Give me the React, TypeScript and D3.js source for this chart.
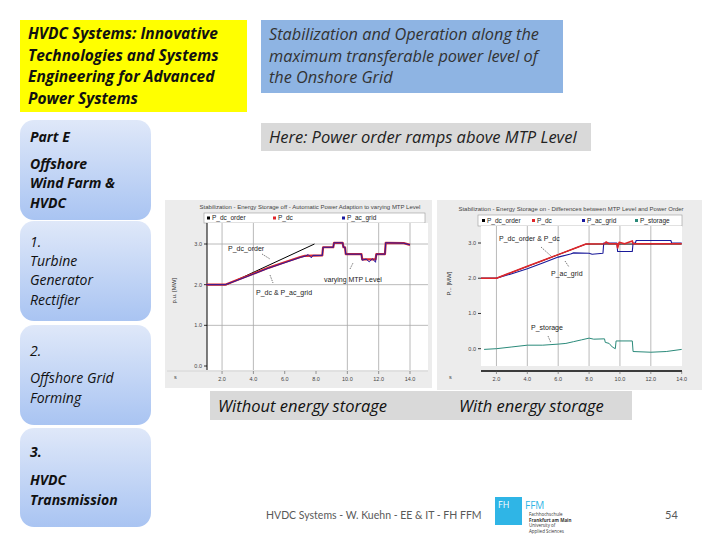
import * as d3 from "d3";

// x / y ticks of both simulation plots
const xTicks = [2, 4, 6, 8, 10, 12, 14];
const yTicks = [0, 1, 2, 3];
const gridX1 = [2, 4, 10, 12, 14];
const gridY1 = [1, 2, 3];
const gridX2 = [2, 4, 6, 8, 10, 12];

// Without energy storage (time s, p.u.)
const offOrder: [number, number][] = [[1, 2.0], [2.3, 2.0], [7.9, 3.0]];
const offDc: [number, number][] = [
  [1, 2.0], [2.2, 2.0], [3, 2.12], [4, 2.27], [5, 2.42], [6, 2.55], [7, 2.68], [7.3, 2.71],
  [8.4, 2.72], [8.45, 2.92], [9.1, 2.92], [9.15, 3.03], [9.7, 3.03], [9.75, 2.92], [9.85, 2.92],
  [9.9, 2.75], [10.9, 2.75], [10.95, 2.62], [11.8, 2.62], [11.85, 2.75], [12.4, 2.75],
  [12.45, 3.03], [13.6, 3.02], [14, 2.98],
];
const offGrid: [number, number][] = [
  [1, 2.0], [2.2, 2.0], [3, 2.11], [4, 2.26], [5, 2.41], [6, 2.54], [7, 2.67], [7.3, 2.7],
  [7.5, 2.74], [7.7, 2.66], [7.8, 2.72], [8.4, 2.72], [8.45, 2.92], [9.1, 2.92], [9.15, 3.03],
  [9.7, 3.03], [9.75, 2.92], [9.85, 2.92], [9.9, 2.75], [10.9, 2.75], [10.95, 2.6], [11.2, 2.63],
  [11.4, 2.56], [11.6, 2.64], [11.8, 2.55], [11.85, 2.75], [12.4, 2.75], [12.45, 3.03],
  [13.6, 3.02], [14, 2.98],
];

// With energy storage
const onOrder: [number, number][] = [[1, 2.0], [2.0, 2.0], [7.8, 2.97], [14, 2.97]];
const onDc: [number, number][] = [
  [1, 2.0], [2.0, 2.0], [3, 2.17], [4, 2.34], [5, 2.5], [6, 2.67], [7, 2.84], [7.8, 2.97],
  [9, 2.98], [9.1, 3.03], [9.3, 2.98], [9.8, 2.98], [9.85, 2.86], [9.95, 3.02], [10.3, 2.98],
  [10.8, 3.06], [10.85, 2.98], [14, 2.98],
];
const onGrid: [number, number][] = [
  [1, 2.0], [2.0, 2.0], [3, 2.13], [4, 2.27], [5, 2.43], [6, 2.6], [6.8, 2.69], [7, 2.72],
  [8, 2.71], [8.2, 2.68], [8.9, 2.71], [8.95, 3.0], [9.8, 3.0], [9.85, 2.76], [10.8, 2.76],
  [10.85, 3.0], [11, 3.0], [11.05, 3.07], [13.3, 3.07], [13.35, 3.0], [14, 3.0],
];
const onStorage: [number, number][] = [
  [1.2, -0.02], [2, 0.0], [3, 0.05], [4, 0.1], [5, 0.1], [6, 0.13], [6.5, 0.15], [7, 0.2],
  [7.5, 0.25], [8, 0.3], [8.3, 0.27], [9, 0.28], [9.05, 0.18], [9.3, 0.15], [9.5, 0.05],
  [9.7, 0.0], [9.75, 0.22], [10.8, 0.22], [10.85, -0.08], [12, -0.1], [13, -0.08], [14, -0.02],
];

const legendOff = ["P_dc_order", "P_dc", "P_ac_grid"];
const legendOn = ["P_dc_order", "P_dc", "P_ac_grid", "P_storage"];
const legendColors = ["#000000", "#e0262b", "#1a1aa0", "#2a8a7a"];

const leftBoxes = [
  { lines: ["Part E", "Offshore", "Wind Farm  &", "HVDC"], ys: [137, 164, 183, 203], bold: true },
  { lines: ["1.", "Turbine", "Generator", "Rectifier"], ys: [242, 261, 280, 300], bold: false },
  { lines: ["2.", "Offshore Grid", "Forming"], ys: [351, 378, 398], bold: false },
  { lines: ["3.", "HVDC", "Transmission"], ys: [452, 480, 500], bold: true },
];

const slideFont = "'Open Sans', Lato, sans-serif";
const chartFont = "'Liberation Sans', Arial, sans-serif";

type Series = { data: [number, number][]; color: string; width: number };

function Chart(props: {
  panel: [number, number, number, number];
  plot: [number, number, number, number];
  x0: number; x1: number; y0: number; y3: number;
  title: string; titleX: number; titleY: number;
  legend: string[]; legendX: number[]; legendBox: [number, number, number, number];
  gridX: number[]; gridY: number[];
  series: Series[];
  notes: { text: string; x: number; y: number; lead: [number, number, number, number] }[];
  yLabel: string; yLabelX: number; axisBlack: boolean;
}) {
  const [px, py, pw, ph] = props.plot;
  const x = d3.scaleLinear().domain([1, 14]).range([props.x0, props.x1]);
  const y = d3.scaleLinear().domain([0, 3]).range([props.y0, props.y3]);
  const line = d3.line<[number, number]>().x(d => x(d[0])).y(d => y(d[1]));
  const [lx, ly, lw, lh] = props.legendBox;
  const tickTop = py + ph + (props.axisBlack ? 1 : 5);
  return (
    <g fontFamily={chartFont}>
      <rect x={props.panel[0]} y={props.panel[1]} width={props.panel[2]} height={props.panel[3]} fill="#ececec" />
      <text x={props.titleX} y={props.titleY} fontSize={6} fill="#444" textAnchor="middle">{props.title}</text>
      <rect x={lx} y={ly} width={lw} height={lh} fill="#fff" stroke="#999" strokeWidth={0.6} />
      {props.legend.map((t, i) => (
        <g key={t}>
          <rect x={props.legendX[i]} y={ly + lh / 2 - 1.5} width={3} height={3} fill={legendColors[i]} />
          <text x={props.legendX[i] + 5} y={ly + lh / 2 + 2} fontSize={6.5} fill="#222">{t}</text>
        </g>
      ))}
      <rect x={px} y={py} width={pw} height={ph} fill="#fff" />
      {props.gridX.map(v => (
        <line key={"gx" + v} x1={x(v)} x2={x(v)} y1={py} y2={py + ph} stroke="#a8a8a8" strokeWidth={0.8} />
      ))}
      {props.gridY.map(v => (
        <line key={"gy" + v} x1={px} x2={px + pw} y1={y(v)} y2={y(v)} stroke="#a8a8a8" strokeWidth={0.8} />
      ))}
      {props.axisBlack ? (
        <>
          <line x1={px} x2={px} y1={py} y2={py + ph} stroke="#000" strokeWidth={1} />
          <line x1={px - 40} x2={px + pw} y1={py + ph + 1} y2={py + ph + 1} stroke="#d0d0d0" strokeWidth={0.8} />
        </>
      ) : (
        <line x1={px} x2={px + pw} y1={py + ph + 5} y2={py + ph + 5} stroke="#000" strokeWidth={1.3} />
      )}
      {yTicks.map(v => (
        <g key={"yt" + v}>
          <line x1={px - 3} x2={px} y1={y(v)} y2={y(v)} stroke="#000" strokeWidth={0.8} />
          <text x={px - 5} y={y(v) + 2} fontSize={5.5} fill="#444" textAnchor="end">{v.toFixed(1)}</text>
        </g>
      ))}
      {xTicks.map(v => (
        <g key={"xt" + v}>
          <line x1={x(v)} x2={x(v)} y1={tickTop} y2={tickTop + 3} stroke="#555" strokeWidth={0.6} />
          <text x={x(v)} y={tickTop + 10} fontSize={5.5} fill="#444" textAnchor="middle">{v.toFixed(1)}</text>
        </g>
      ))}
      <text x={props.yLabelX} y={tickTop + 8} fontSize={5.5} fill="#444">s</text>
      <text transform={`translate(${props.yLabelX + 2},${y(1.85)}) rotate(-90)`} fontSize={6} fill="#333" textAnchor="middle">{props.yLabel}</text>
      {props.series.map((s, i) => (
        <path key={"s" + i} d={line(s.data) ?? ""} fill="none" stroke={s.color} strokeWidth={s.width} strokeLinejoin="round" />
      ))}
      {props.notes.map(n => (
        <g key={n.text}>
          <text x={n.x} y={n.y} fontSize={7} fill="#222">{n.text}</text>
          <line x1={n.lead[0]} y1={n.lead[1]} x2={n.lead[2]} y2={n.lead[3]} stroke="#222" strokeWidth={0.6} strokeDasharray="1.5,1" />
        </g>
      ))}
    </g>
  );
}

export default function App() {
  return (
    <svg width={720} height={540} style={{ position: "absolute", left: 0, top: 0, background: "#fff" }} fontFamily={slideFont}>
      <defs>
        <linearGradient id="boxGrad" x1="0" x2="0" y1="0" y2="1">
          <stop offset="0%" stopColor="#dfe8f9" />
          <stop offset="100%" stopColor="#a9c4f2" />
        </linearGradient>
      </defs>
      <rect width={720} height={540} fill="#fff" />

      <rect x={20} y={20} width={227} height={92} fill="#ffff00" />
      {["HVDC Systems: Innovative", "Technologies and Systems", "Engineering for Advanced", "Power Systems"].map((t, i) => (
        <text key={t} x={28} y={39 + i * 21.7} fontSize={15.5} fontWeight={700} fontStyle="italic" fill="#111">{t}</text>
      ))}

      <rect x={261} y={20} width={302} height={73} fill="#8eb4e3" />
      {["Stabilization and Operation along the", "maximum transferable power level of", "the Onshore Grid"].map((t, i) => (
        <text key={t} x={269} y={40 + i * 21.5} fontSize={16.3} fontStyle="italic" fill="#333">{t}</text>
      ))}

      <rect x={261} y={123} width={330} height={28} fill="#d9d9d9" />
      <text x={269} y={143} fontSize={16.5} fontStyle="italic" fill="#222">Here: Power order ramps above MTP Level</text>

      {leftBoxes.map((b, i) => (
        <g key={i}>
          <rect x={20} y={[120, 221, 325, 428][i]} width={131} height={[100, 100, 100, 99][i]} rx={14} fill="url(#boxGrad)" />
          {b.lines.map((t, j) => (
            <text key={j} x={30} y={b.ys[j] + 5} fontSize={14} fontStyle="italic" fontWeight={b.bold ? 700 : 400} fill="#111">{t}</text>
          ))}
        </g>
      ))}

      <Chart
        panel={[165, 200, 267, 188]} plot={[207, 223, 221, 147]}
        x0={206.4} x1={410} y0={366} y3={244}
        title="Stabilization - Energy Storage off - Automatic Power Adaption to varying MTP Level" titleX={310} titleY={209}
        legend={legendOff} legendX={[207, 273, 342]} legendBox={[204, 213, 221, 10]}
        gridX={gridX1} gridY={gridY1}
        series={[
          { data: offOrder, color: "#000", width: 1 },
          { data: offDc, color: "#d8282e", width: 2.2 },
          { data: offGrid, color: "#2a1aa0", width: 1 },
        ]}
        notes={[
          { text: "P_dc_order", x: 228, y: 251, lead: [262, 254, 270, 259] },
          { text: "P_dc & P_ac_grid", x: 256, y: 295, lead: [270, 275, 273, 283] },
          { text: "varying MTP Level", x: 324, y: 282, lead: [350, 269, 353, 263] },
        ]}
        yLabel="p.u. [MW]" yLabelX={174} axisBlack={true}
      />

      <Chart
        panel={[437, 200, 265, 190]} plot={[481, 226, 201, 140]}
        x0={481} x1={681.7} y0={348.7} y3={243}
        title="Stabilization - Energy Storage on - Differences between MTP Level and Power Order" titleX={571} titleY={211}
        legend={legendOn} legendX={[482, 532, 582, 635]} legendBox={[478, 215, 204, 11]}
        gridX={gridX2} gridY={[]}
        series={[
          { data: onOrder, color: "#000", width: 1 },
          { data: onGrid, color: "#1a1a9a", width: 1.1 },
          { data: onDc, color: "#e0262b", width: 1.6 },
          { data: onStorage, color: "#2a8a7a", width: 1 },
        ]}
        notes={[
          { text: "P_dc_order & P_dc", x: 499, y: 241, lead: [541, 247, 551, 256] },
          { text: "P_ac_grid", x: 551, y: 276, lead: [565, 261, 569, 267] },
          { text: "P_storage", x: 531, y: 330, lead: [548, 336, 551, 343] },
        ]}
        yLabel="P... [MW]" yLabelX={449} axisBlack={false}
      />

      <rect x={210} y={391} width={422} height={29} fill="#d9d9d9" />
      <text x={218} y={412} fontSize={16.5} fontStyle="italic" fill="#111">Without energy storage</text>
      <text x={459} y={412} fontSize={16.5} fontStyle="italic" fill="#111">With energy storage</text>

      <text x={266} y={519} fontSize={10.5} fill="#595959" fontFamily="Lato, sans-serif">HVDC Systems - W.  Kuehn - EE &amp; IT - FH FFM</text>
      <rect x={495} y={497} width={27} height={28} fill="#2fb5e6" />
      <text x={498} y={508} fontSize={9} fill="#fff">FH</text>
      <text x={525} y={509} fontSize={10} fill="#2fb5e6">FFM</text>
      {["Fachhochschule", "Frankfurt am Main", "University of", "Applied Sciences"].map((t, i) => (
        <text key={t} x={529} y={516 + i * 5.5} fontSize={4.5} fill="#333" fontWeight={i === 1 ? 700 : 400}>{t}</text>
      ))}
      <text x={665} y={519} fontSize={11} fill="#595959" fontFamily="Lato, sans-serif">54</text>
    </svg>
  );
}
